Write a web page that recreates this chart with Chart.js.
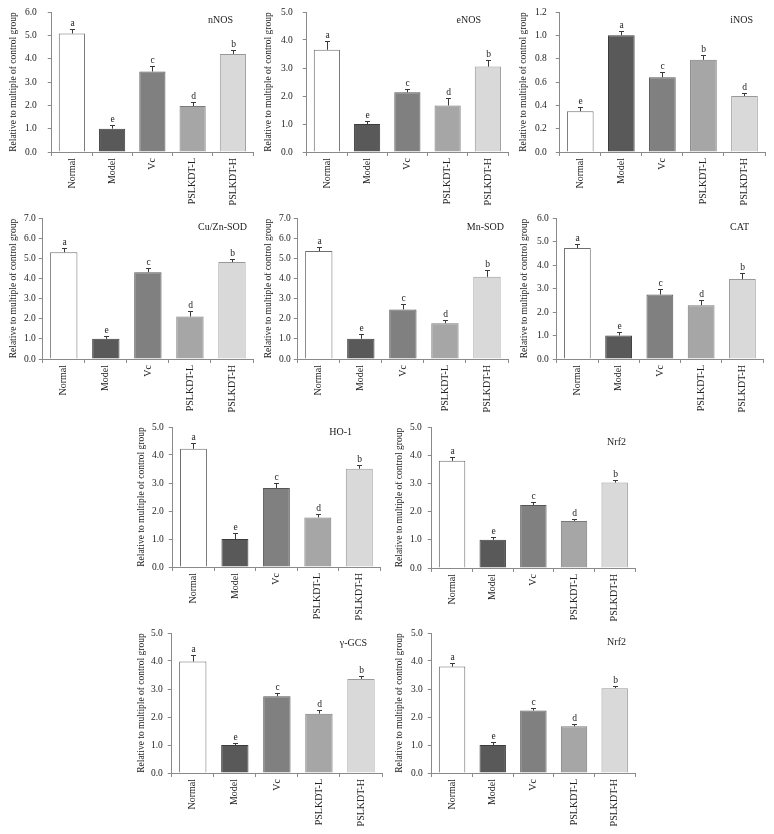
<!DOCTYPE html>
<html>
<head>
<meta charset="utf-8">
<script src="https://cdn.jsdelivr.net/npm/chart.js@4.4.1/dist/chart.umd.min.js"></script>
<style>
  body { margin: 0; background: #fff; }
  #fig { position: relative; width: 774px; height: 834px; overflow: hidden; }
  #fig canvas { position: absolute; }
</style>
</head>
<body>
<div id="fig"></div>
<script>
const GROUPS = ["Normal", "Model", "Vc", "PSLKDT-L", "PSLKDT-H"];
const FILLS = ["#ffffff", "#595959", "#808080", "#a6a6a6", "#d9d9d9"];
const BORDERS = ["#6e6e6e", "#3c3c3c", "#555555", "#7a7a7a", "#999999"];

const nnosMean = [5.08, 1.0, 3.45, 1.97, 4.2];
const nnosErr = [0.18, 0.14, 0.24, 0.16, 0.15];
const nnosSig = ["a", "e", "c", "d", "b"];

const enosMean = [3.65, 1.0, 2.13, 1.66, 3.05];
const enosErr = [0.33, 0.12, 0.11, 0.26, 0.22];
const enosSig = ["a", "e", "c", "d", "b"];

const inosMean = [0.35, 1.0, 0.64, 0.79, 0.48];
const inosErr = [0.035, 0.04, 0.045, 0.04, 0.03];
const inosSig = ["e", "a", "c", "b", "d"];

const cuznMean = [5.3, 1.0, 4.31, 2.11, 4.81];
const cuznErr = [0.23, 0.16, 0.22, 0.26, 0.16];
const cuznSig = ["a", "e", "c", "d", "b"];

const mnsodMean = [5.36, 1.0, 2.46, 1.78, 4.08];
const mnsodErr = [0.21, 0.23, 0.27, 0.17, 0.33];
const mnsodSig = ["a", "e", "c", "d", "b"];

const catMean = [4.72, 1.0, 2.74, 2.29, 3.4];
const catErr = [0.17, 0.15, 0.24, 0.2, 0.24];
const catSig = ["a", "e", "c", "d", "b"];

const ho1Mean = [4.22, 1.0, 2.82, 1.77, 3.51];
const ho1Err = [0.22, 0.21, 0.17, 0.14, 0.15];
const ho1Sig = ["a", "e", "c", "d", "b"];

const nrf2Mean = [3.8, 1.0, 2.23, 1.67, 3.03];
const nrf2Err = [0.12, 0.1, 0.1, 0.07, 0.08];
const nrf2Sig = ["a", "e", "c", "d", "b"];

const gcsMean = [3.98, 1.0, 2.74, 2.12, 3.36];
const gcsErr = [0.22, 0.08, 0.13, 0.14, 0.1];
const gcsSig = ["a", "e", "c", "d", "b"];

// layout in page pixels: axis x, y of max tick, y of zero, right end of x axis
const PANELS = [
  { label: "nNOS", mean: nnosMean, err: nnosErr, sig: nnosSig, max: 6, step: 1, x: 52, top: 12, bottom: 152, right: 253, gap: 15, tOff: 38, lx: 20, ly: 8 },
  { label: "eNOS", mean: enosMean, err: enosErr, sig: enosSig, max: 5, step: 1, x: 307, top: 12, bottom: 152, right: 508, gap: 14, tOff: 38, lx: 27, ly: 8 },
  { label: "iNOS", mean: inosMean, err: inosErr, sig: inosSig, max: 1.2, step: 0.2, x: 560, top: 12, bottom: 152, right: 765, gap: 13, tOff: 36, lx: 12, ly: 8 },
  { label: "Cu/Zn-SOD", mean: cuznMean, err: cuznErr, sig: cuznSig, max: 7, step: 1, x: 43, top: 218, bottom: 359, right: 253, gap: 7, tOff: 29, lx: 6, ly: 9 },
  { label: "Mn-SOD", mean: mnsodMean, err: mnsodErr, sig: mnsodSig, max: 7, step: 1, x: 298, top: 218, bottom: 359, right: 508, gap: 7, tOff: 29, lx: 4, ly: 9 },
  { label: "CAT", mean: catMean, err: catErr, sig: catSig, max: 6, step: 1, x: 557, top: 218, bottom: 359, right: 763, gap: 8, tOff: 32, lx: 14, ly: 9 },
  { label: "HO-1", mean: ho1Mean, err: ho1Err, sig: ho1Sig, max: 5, step: 1, x: 173, top: 427, bottom: 567, right: 380, gap: 9, tOff: 31, lx: 28, ly: 5 },
  { label: "Nrf2", mean: nrf2Mean, err: nrf2Err, sig: nrf2Sig, max: 5, step: 1, x: 432, top: 427, bottom: 568, right: 635, gap: 10, tOff: 32, lx: 9, ly: 15 },
  { label: "γ-GCS", mean: gcsMean, err: gcsErr, sig: gcsSig, max: 5, step: 1, x: 172, top: 633, bottom: 773, right: 382, gap: 9, tOff: 30, lx: 15, ly: 10 },
  { label: "Nrf2", mean: nrf2Mean, err: nrf2Err, sig: nrf2Sig, max: 5, step: 1, x: 432, top: 633, bottom: 773, right: 635, gap: 9, tOff: 32, lx: 9, ly: 9 }
];

const FONT = "'Liberation Serif', 'Times New Roman', serif";
const TEXT = "#222";
const AXIS = "#8a8a8a";
const PAD_TOP = 10, PAD_RIGHT = 6, X_H = 62;

const errorBars = {
  id: "errorBars",
  afterDatasetsDraw(chart, args, opts) {
    const { ctx, chartArea } = chart;
    const y = chart.scales.y;
    const meta = chart.getDatasetMeta(0);
    ctx.save();
    ctx.strokeStyle = "#3a3a3a";
    ctx.lineWidth = 1;
    ctx.fillStyle = TEXT;
    ctx.font = "9.5px " + FONT;
    ctx.textAlign = "center";
    ctx.textBaseline = "alphabetic";
    meta.data.forEach((bar, i) => {
      const top = Math.round(y.getPixelForValue(opts.mean[i] + opts.err[i]));
      const cx = Math.round(bar.x) + 0.5;
      ctx.beginPath();
      ctx.moveTo(cx, bar.y);
      ctx.lineTo(cx, top);
      ctx.moveTo(cx - 2.5, top + 0.5);
      ctx.lineTo(cx + 2.5, top + 0.5);
      ctx.stroke();
      ctx.fillText(opts.sig[i], cx, top - 3);
    });
    ctx.font = "10px " + FONT;
    ctx.textAlign = "right";
    ctx.textBaseline = "middle";
    ctx.fillText(opts.label, chartArea.right - opts.lx, chartArea.top + opts.ly);
    ctx.restore();
  }
};

const fig = document.getElementById("fig");

PANELS.forEach((p) => {
  const yw = p.tOff + 4.75;
  const w = Math.round(yw + (p.right - p.x) + PAD_RIGHT);
  const h = (p.bottom - p.top) + PAD_TOP + X_H;
  const canvas = document.createElement("canvas");
  canvas.width = w;
  canvas.height = h;
  canvas.style.left = (p.x - yw) + "px";
  canvas.style.top = (p.top - PAD_TOP) + "px";
  canvas.style.width = w + "px";
  canvas.style.height = h + "px";
  fig.appendChild(canvas);

  new Chart(canvas, {
    type: "bar",
    data: {
      labels: GROUPS,
      datasets: [{
        data: p.mean,
        backgroundColor: FILLS,
        borderColor: BORDERS,
        borderWidth: 1,
        borderSkipped: "bottom",
        barPercentage: 0.65,
        categoryPercentage: 1
      }]
    },
    options: {
      responsive: false,
      animation: false,
      events: [],
      layout: { padding: { top: PAD_TOP, right: PAD_RIGHT, left: 0, bottom: 0 } },
      plugins: {
        legend: { display: false },
        tooltip: { enabled: false },
        errorBars: { mean: p.mean, err: p.err, sig: p.sig, label: p.label, lx: p.lx, ly: p.ly }
      },
      scales: {
        x: {
          grid: { drawOnChartArea: false, drawTicks: true, tickLength: 4, color: AXIS, offset: true },
          border: { color: AXIS, width: 1 },
          ticks: {
            autoSkip: false, minRotation: 90, maxRotation: 90, padding: 2,
            color: TEXT, font: { family: FONT, size: 10 }
          },
          afterFit(s) { s.height = X_H; s.paddingLeft = 0; s.paddingRight = 0; }
        },
        y: {
          min: 0, max: p.max,
          grid: { drawOnChartArea: false, drawTicks: true, tickLength: 4, color: AXIS },
          border: { color: AXIS, width: 1 },
          ticks: {
            stepSize: p.step, padding: p.gap - 4, color: TEXT,
            font: { family: FONT, size: 9.5 },
            callback: (v) => Number(v).toFixed(1)
          },
          title: {
            display: true, text: "Relative to multiple of control group",
            color: TEXT, padding: 0, font: { family: FONT, size: 9.5, lineHeight: 1 }
          },
          afterFit(s) { s.width = yw; s.paddingTop = 0; s.paddingBottom = 0; }
        }
      }
    },
    plugins: [errorBars]
  });
});
</script>
</body>
</html>
